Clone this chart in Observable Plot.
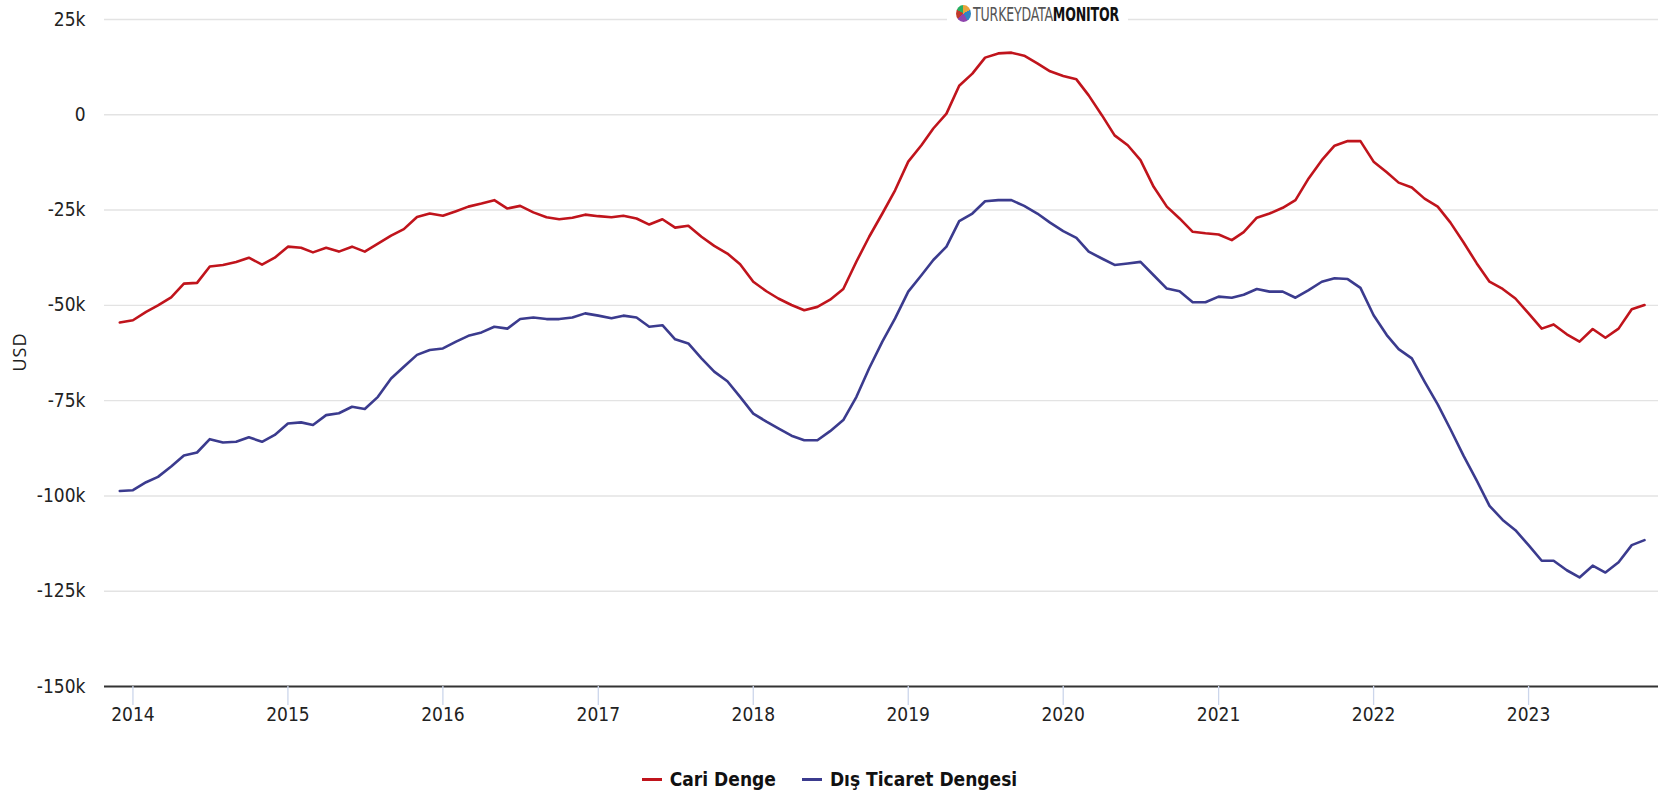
<!DOCTYPE html>
<html>
<head>
<meta charset="utf-8">
<script src="https://cdn.jsdelivr.net/npm/d3@7"></script>
<script src="https://cdn.jsdelivr.net/npm/@observablehq/plot@0.6"></script>
<style>
  html, body { margin: 0; padding: 0; background: #fff; }
  #wrap { position: relative; width: 1659px; height: 800px; overflow: hidden; font-family: "Liberation Sans Narrow", "DejaVu Sans Condensed", "Roboto", sans-serif; }
  #chart { position: absolute; left: 0; top: 0; }
  #logo { position: absolute; left: 947px; top: 0px; width: 181px; height: 27px; background: #fff;
          display: flex; align-items: center; justify-content: center; gap: 2px; }
  #logo .icon { width: 15px; height: 17px; border-radius: 50%;
          background: conic-gradient(#e8a33c 0 60deg, #2e86c1 60deg 150deg, #8e44ad 150deg 230deg, #c0392b 230deg 300deg, #27ae60 300deg 360deg); }
  #logo .txt { font-size: 14px; transform: scaleY(1.35); letter-spacing: -0.2px; }
  #logo .l { color: #555; font-weight: normal; }
  #logo .b { color: #111; font-weight: bold; }
  #ylab { position: absolute; left: 19px; top: 352px; transform: translate(-50%, -50%) rotate(-90deg);
          font-family: "Open Sans", "Liberation Sans", sans-serif; font-size: 18px; color: #222; letter-spacing: 1px; white-space: nowrap; }
  #legend { position: absolute; left: 0; width: 1659px; top: 768px; display: flex; justify-content: center; gap: 26px;
          font-size: 19px; font-weight: bold; color: #111; }
  #legend .item { display: flex; align-items: center; gap: 8px; }
  #legend .sym { width: 20px; height: 3px; }
</style>
</head>
<body>
<div id="wrap">
  <div id="chart"></div>
  <div id="logo"><span class="icon"></span><span class="txt"><span class="l">TURKEYDATA</span><span class="b">MONITOR</span></span></div>
  <div id="ylab">USD</div>
  <div id="legend"></div>
</div>
<script>
// Series names and colours
const seriesNames = ["Cari Denge", "Dış Ticaret Dengesi"];
const seriesColors = ["#c0141c", "#3b3b8e"];

// Monthly values (12-month rolling, thousand USD in k units), Dec 2013 .. Oct 2023
const firstMonth = [2013, 11]; // Dec 2013 (UTC month index)
const cariDenge = [
  -54.5, -53.9, -51.7, -50.0, -47.9, -44.3, -44.1, -39.8, -39.4, -38.6, -37.5, -39.3,
  -37.5, -34.6, -34.9, -36.1, -34.9, -35.9, -34.6, -35.9, -33.8, -31.7, -30.0, -26.8,
  -25.9, -26.5, -25.3, -24.1, -23.3, -22.4, -24.6, -23.9, -25.6, -26.9, -27.4, -27.0,
  -26.2, -26.6, -26.9, -26.5, -27.2, -28.8, -27.4, -29.6, -29.1, -32.0, -34.4, -36.4,
  -39.2, -43.8, -46.3, -48.2, -49.9, -51.3, -50.4, -48.5, -45.7, -38.5, -32.0, -25.9,
  -19.8, -12.3, -8.0, -3.6, 0.3, 7.6, 10.8, 15.0, 16.1, 16.3, 15.5, 13.5,
  11.4, 10.2, 9.3, 5.1, -0.1, -5.4, -8.0, -11.9, -18.9, -24.1, -27.2, -30.7,
  -31.1, -31.4, -32.9, -30.8, -27.0, -25.9, -24.4, -22.4, -16.7, -11.9, -8.1, -6.9,
  -6.9, -12.3, -15.1, -17.8, -19.1, -22.0, -24.1, -28.3, -33.5, -39.0, -43.8, -45.7,
  -48.2, -52.1, -56.1, -55.0, -57.6, -59.5, -56.2, -58.5, -56.1, -51.0, -49.9
];
const disTicaretDengesi = [
  -98.7, -98.5, -96.4, -95.0, -92.3, -89.4, -88.6, -85.1, -86.0, -85.8, -84.6, -85.8,
  -84.0, -81.0, -80.7, -81.4, -78.8, -78.3, -76.6, -77.2, -74.0, -69.2, -66.1, -63.0,
  -61.7, -61.3, -59.5, -58.0, -57.1, -55.6, -56.1, -53.6, -53.2, -53.6, -53.6, -53.2,
  -52.1, -52.7, -53.4, -52.7, -53.2, -55.6, -55.2, -58.9, -60.0, -63.9, -67.4, -69.9,
  -74.0, -78.4, -80.5, -82.3, -84.2, -85.4, -85.4, -83.0, -80.1, -74.0, -66.5, -59.5,
  -53.4, -46.4, -42.1, -38.1, -34.6, -27.9, -25.9, -22.7, -22.4, -22.4, -23.9, -25.9,
  -28.3, -30.5, -32.3, -35.9, -37.7, -39.4, -39.0, -38.6, -42.1, -45.6, -46.3, -49.2,
  -49.2, -47.7, -48.0, -47.2, -45.7, -46.4, -46.4, -48.0, -46.0, -43.8, -42.9, -43.1,
  -45.4, -52.6, -57.8, -61.5, -63.9, -70.0, -76.0, -82.5, -89.5, -96.0, -102.6, -106.3,
  -109.0, -112.9, -117.0, -117.0, -119.5, -121.4, -118.3, -120.1, -117.4, -112.9, -111.6
];

// Axis ticks
const yTicks = [25000, 0, -25000, -50000, -75000, -100000, -125000, -150000];
const xTickYears = [2014, 2015, 2016, 2017, 2018, 2019, 2020, 2021, 2022, 2023];

const months = cariDenge.map((_, i) => new Date(Date.UTC(firstMonth[0], firstMonth[1] + i, 1)));
const rows = [];
[cariDenge, disTicaretDengesi].forEach((vals, s) => {
  vals.forEach((v, i) => rows.push({date: months[i], value: v * 1000, series: seriesNames[s]}));
});

const fmtY = v => v === 0 ? "0" : (v / 1000) + "k";

const chart = Plot.plot({
  width: 1659,
  height: 740,
  marginLeft: 104,
  marginRight: 1,
  marginTop: 19,
  marginBottom: 54,
  style: {fontFamily: '"Liberation Sans Narrow", "DejaVu Sans Condensed", sans-serif', fontSize: "19px", color: "#222", background: "transparent"},
  x: {type: "utc", domain: [new Date(Date.UTC(2013, 9, 26)), new Date(Date.UTC(2023, 10, 3))]},
  y: {domain: [-150000, 25000]},
  color: {domain: seriesNames, range: seriesColors},
  marks: [
    Plot.gridY(yTicks.filter(t => t !== -150000), {stroke: "#e3e3e3", strokeOpacity: 1, strokeWidth: 1.4}),
    Plot.ruleY([-150000], {stroke: "#333", strokeWidth: 2.2}),
    Plot.axisY({ticks: yTicks, tickFormat: fmtY, tickSize: 0, tickPadding: 19, label: null, fill: "#222"}),
    Plot.axisX({ticks: xTickYears.map(y => new Date(Date.UTC(y, 0, 1))), tickFormat: d3.utcFormat("%Y"),
                tickSize: 19, tickPadding: 2, stroke: "#ccd6eb", strokeWidth: 1.3, label: null, fill: "#222"}),
    Plot.lineY(rows, {x: "date", y: "value", stroke: "series", strokeWidth: 2.6, curve: "linear"})
  ]
});
document.getElementById("chart").appendChild(chart);

const legend = document.getElementById("legend");
seriesNames.forEach((name, i) => {
  const item = document.createElement("div");
  item.className = "item";
  const sym = document.createElement("span");
  sym.className = "sym";
  sym.style.background = seriesColors[i];
  const label = document.createElement("span");
  label.textContent = name;
  item.appendChild(sym);
  item.appendChild(label);
  legend.appendChild(item);
});
</script>
</body>
</html>
